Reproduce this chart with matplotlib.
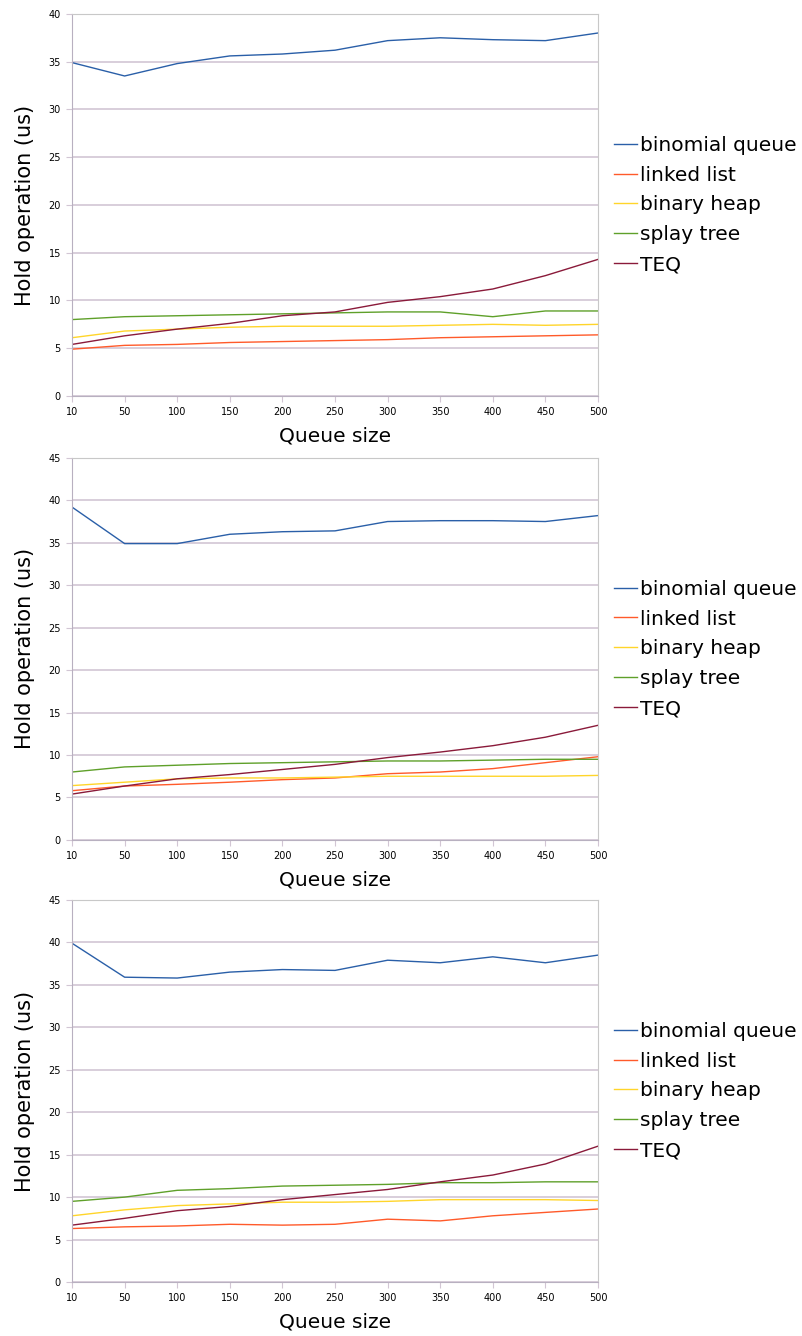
import matplotlib
matplotlib.use('Agg')
import matplotlib.pyplot as plt

# Données (temps de hold en microsecondes)
queue_sizes = ['10', '50', '100', '150', '200', '250', '300', '350', '400', '450', '500']
series_names = ['binomial queue', 'linked list', 'binary heap', 'splay tree', 'TEQ']
colors = ['#2a5fa8', '#ff5a2a', '#ffd52a', '#5fa02a', '#8a1a3a']

# Graphique 1
p1_binomial = [34.9, 33.5, 34.8, 35.6, 35.8, 36.2, 37.2, 37.5, 37.3, 37.2, 38.0]
p1_linked = [4.9, 5.3, 5.4, 5.6, 5.7, 5.8, 5.9, 6.1, 6.2, 6.3, 6.4]
p1_heap = [6.1, 6.8, 7.0, 7.2, 7.3, 7.3, 7.3, 7.4, 7.5, 7.4, 7.5]
p1_splay = [8.0, 8.3, 8.4, 8.5, 8.6, 8.7, 8.8, 8.8, 8.3, 8.9, 8.9]
p1_teq = [5.4, 6.3, 7.0, 7.6, 8.4, 8.8, 9.8, 10.4, 11.2, 12.6, 14.3]

# Graphique 2
p2_binomial = [39.2, 34.9, 34.9, 36.0, 36.3, 36.4, 37.5, 37.6, 37.6, 37.5, 38.2]
p2_linked = [5.8, 6.35, 6.55, 6.8, 7.1, 7.3, 7.8, 8.0, 8.4, 9.1, 9.8]
p2_heap = [6.4, 6.8, 7.2, 7.3, 7.3, 7.4, 7.5, 7.5, 7.5, 7.5, 7.6]
p2_splay = [8.0, 8.6, 8.8, 9.0, 9.1, 9.2, 9.3, 9.3, 9.4, 9.5, 9.5]
p2_teq = [5.4, 6.35, 7.2, 7.7, 8.3, 8.9, 9.7, 10.35, 11.1, 12.1, 13.5]

# Graphique 3
p3_binomial = [39.9, 35.9, 35.8, 36.5, 36.8, 36.7, 37.9, 37.6, 38.3, 37.6, 38.5]
p3_linked = [6.3, 6.5, 6.6, 6.8, 6.7, 6.8, 7.4, 7.2, 7.8, 8.2, 8.6]
p3_heap = [7.8, 8.5, 9.0, 9.2, 9.4, 9.4, 9.5, 9.7, 9.7, 9.7, 9.6]
p3_splay = [9.5, 10.0, 10.8, 11.0, 11.3, 11.4, 11.5, 11.7, 11.7, 11.8, 11.8]
p3_teq = [6.7, 7.5, 8.4, 8.9, 9.7, 10.3, 10.9, 11.8, 12.6, 13.9, 16.0]

panels = [
    ([p1_binomial, p1_linked, p1_heap, p1_splay, p1_teq], 40),
    ([p2_binomial, p2_linked, p2_heap, p2_splay, p2_teq], 45),
    ([p3_binomial, p3_linked, p3_heap, p3_splay, p3_teq], 45),
]

fig = plt.figure(figsize=(8.03, 13.36), dpi=100)
fig.set_facecolor('white')

bottoms = [0.7036, 0.3713, 0.0404]
grid_color = '#d2c6d4'
x = list(range(len(queue_sizes)))

for (data, ymax), bottom in zip(panels, bottoms):
    ax = fig.add_axes([0.0897, bottom, 0.655, 0.286])
    for values, name, color in zip(data, series_names, colors):
        ax.plot(x, values, color=color, linewidth=1.0, label=name)
    ax.set_xlim(0, len(queue_sizes) - 1)
    ax.set_ylim(0, ymax)
    ax.set_xticks(x)
    ax.set_xticklabels(queue_sizes)
    ax.set_yticks(range(0, ymax + 1, 5))
    ax.tick_params(labelsize=7, length=4, color=grid_color, pad=4)
    ax.grid(axis='y', color=grid_color, linewidth=1.2)
    ax.set_axisbelow(True)
    for side in ['top', 'right']:
        ax.spines[side].set_color('#c8c8c8')
    for side in ['left', 'bottom']:
        ax.spines[side].set_color('#b8b0c0')
    ax.set_xlabel('Queue size', fontsize=14.5, labelpad=7)
    ax.set_ylabel('Hold operation (us)', fontsize=15, labelpad=10)
    ax.legend(loc='center left', bbox_to_anchor=(1.0, 0.5), frameon=False,
              fontsize=14.5, handlelength=1.15, handletextpad=0.15,
              labelspacing=0.54, borderaxespad=0.4, borderpad=0.4)

plt.savefig('out.png', dpi=100, facecolor='white')
